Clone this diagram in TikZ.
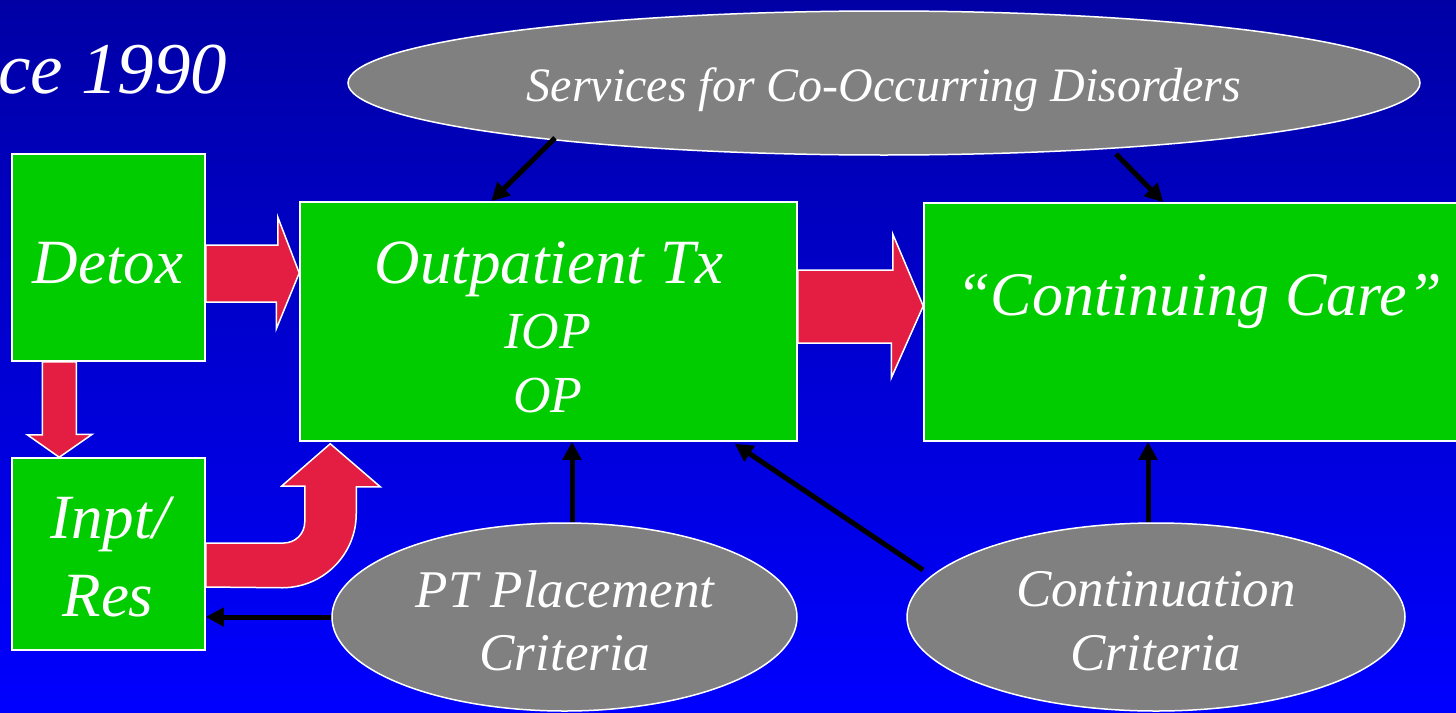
\documentclass[tikz,border=0pt]{standalone}
\usepackage{fontspec}
\setmainfont{Liberation Serif}
\usetikzlibrary{calc,arrows.meta,shapes.geometric}

\definecolor{boxgreen}{RGB}{0,204,0}
\definecolor{flowred}{RGB}{227,30,66}
\definecolor{ovalgray}{RGB}{128,128,128}
\definecolor{bgtop}{RGB}{0,0,165}
\definecolor{bgbottom}{RGB}{0,0,255}

\newcommand\txtsize[1]{\fontsize{#1}{#1}\selectfont}

\begin{document}
\begin{tikzpicture}[x=1pt,y=-1pt,
  box/.style={draw=white, line width=1.5pt, fill=boxgreen, rectangle, inner sep=0pt},
  oval/.style={draw=white, line width=1.5pt, fill=ovalgray, ellipse, inner sep=0pt},
  boxtext/.style={text=white, inner sep=0pt, anchor=base},
  blockarrow/.style={draw=white, line width=1.5pt, fill=flowred, line join=miter},
  link/.style={draw=black, line width=5pt, -{Triangle[length=18pt,width=18pt]}},
]
% page and background
\useasboundingbox (0,0) rectangle (1456,712);
\shade[top color=bgtop, bottom color=bgbottom] (0,0) rectangle (1456,712);

% title fragment
\node[boxtext, anchor=base west, font=\itshape\txtsize{73}] (since) at (-2,93) {ce 1990};

% service boxes
\node[box, minimum width=193pt, minimum height=207pt] (detox) at (108.5,257.5) {};
\node[box, minimum width=193pt, minimum height=192pt] (inpt) at (108.5,554) {};
\node[box, minimum width=497pt, minimum height=239pt] (op) at (548.5,321.5) {};
\node[box, minimum width=550pt, minimum height=238pt] (cc) at (1199,322) {};

% criteria ovals
\node[oval, minimum width=1072pt, minimum height=144pt] (svc) at (884,83) {};
\node[oval, minimum width=465pt, minimum height=188pt] (pt) at (564.5,617) {};
\node[oval, minimum width=498pt, minimum height=188pt] (cont) at (1156,617) {};

% red flow arrows
\draw[blockarrow] ($(detox.east)+(0,-12.5)$) -- ++(72,0) -- ++(0,-28)
  -- ($(op.west)+(0,-48.5)$) -- ++(-23,56) -- ++(0,-27)
  -- ($(detox.east)+(0,44.5)$) -- cycle;
\draw[blockarrow] ($(op.east)+(0,-51.5)$) -- ++(95,0) -- ++(0,-36)
  -- ($(cc.west)+(0,-16)$) -- ++(-32,72) -- ++(0,-35)
  -- ($(op.east)+(0,21.5)$) -- cycle;
\draw[blockarrow] ($(detox.south west)+(31,0)$) -- ++(0,73) -- ++(-15,0)
  -- ($(inpt.north west)+(48,0)$) -- ++(33,-23) -- ++(-16,0)
  -- ($(detox.south west)+(65,0)$) -- cycle;
\draw[blockarrow] ($(inpt.east)+(0,-11)$) -- ++(78,0)
  .. controls +(11.6,0) and +(0,11.6) .. ++(21,-21)
  -- ++(0,-36) -- ++(-23,0)
  -- ($(op.south west)+(31,2)$) -- ++(50,43) -- ++(-24,0) -- ++(0,27)
  .. controls +(0,40.9) and +(40.9,0) .. ++(-74,74)
  -- ($(inpt.east)+(0,33)$) -- cycle;

% black connectors
\draw[link] ($(svc.center)+(-329,55)$) -- ($(op.north west)+(192,0)$);
\draw[link] ($(svc.center)+(232,71)$) -- ($(cc.north west)+(240,0)$);
\coordinate (ptup) at ($(pt.north)+(7.5,0)$);
\draw[link] (ptup) -- (ptup |- op.south);
\draw[link] ($(cont.center)+(-233,-47)$) -- ($(op.south east)+(-63,2)$);
\coordinate (contup) at ($(cont.north)+(-8,0)$);
\draw[link] (contup) -- (contup |- cc.south);
\draw[link] (pt.west) -- (pt.west -| inpt.east);

% labels
\node[boxtext, font=\itshape\txtsize{63}] (detoxlbl) at (108,283) {Detox};
\node[boxtext, font=\itshape\txtsize{63}] (inptlbl) at (110,538) {Inpt/};
\node[boxtext, font=\itshape\txtsize{63}] (reslbl) at (108,616) {Res};
\node[boxtext, font=\itshape\txtsize{63}] (oplbl) at (549,283) {Outpatient Tx};
\node[boxtext, font=\itshape\txtsize{52}] (ioplbl) at (547.5,348) {IOP};
\node[boxtext, font=\itshape\txtsize{52}] (opsub) at (548,412) {OP};
\node[boxtext, font=\itshape\txtsize{62}] (cclbl) at (1199,315) {“Continuing Care”};
\node[boxtext, font=\itshape\txtsize{48}] (svclbl) at (884,101) {Services for Co-Occurring Disorders};
\node[boxtext, font=\itshape\txtsize{53}] (ptlbl) at (565,607) {PT Placement};
\node[boxtext, font=\itshape\txtsize{53}] (ptcrit) at (565,670) {Criteria};
\node[boxtext, font=\itshape\txtsize{53}] (contlbl) at (1156,606) {Continuation};
\node[boxtext, font=\itshape\txtsize{53}] (contcrit) at (1156,670) {Criteria};
\end{tikzpicture}
\end{document}
